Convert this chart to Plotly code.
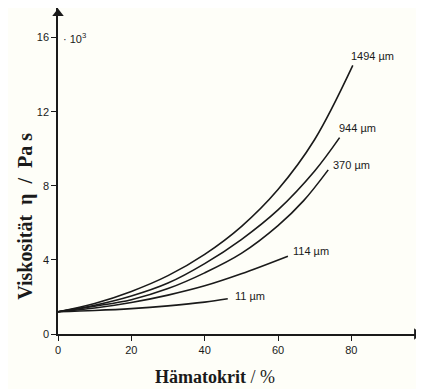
import plotly.graph_objects as go

# Data: hematocrit (%) vs viscosity (10^-3 Pa s)
x_1494 = [0, 10, 20, 30, 40, 50, 60, 70, 80.4]
y_1494 = [1.2, 1.65, 2.3, 3.15, 4.3, 5.8, 7.8, 10.5, 14.5]
x_944 = [0, 10, 20, 30, 40, 50, 60, 70, 76.8]
y_944 = [1.2, 1.55, 2.05, 2.75, 3.8, 5.1, 6.7, 8.8, 10.6]
x_370 = [0, 10, 20, 30, 40, 50, 60, 67, 73.7]
y_370 = [1.2, 1.5, 1.85, 2.45, 3.3, 4.35, 5.85, 7.2, 8.86]
x_114 = [0, 10, 20, 30, 40, 50, 62.7]
y_114 = [1.2, 1.4, 1.7, 2.1, 2.6, 3.25, 4.2]
x_11 = [0, 10, 20, 30, 40, 46.3]
y_11 = [1.2, 1.27, 1.37, 1.52, 1.72, 1.9]

series = [
    ("1494 µm", x_1494, y_1494, 79.4, 15.0),
    ("944 µm", x_944, y_944, 76.0, 11.1),
    ("370 µm", x_370, y_370, 74.4, 9.1),
    ("114 µm", x_114, y_114, 63.6, 4.5),
    ("11 µm", x_11, y_11, 47.6, 2.05),
]

x_ticks = [0, 20, 40, 60, 80]
y_ticks = [0, 4, 8, 12, 16]
x_max = 99
y_max = 17.6

ink = "#1a1a1a"
fig = go.Figure()
for name, xs, ys, lx, ly in series:
    fig.add_trace(go.Scatter(x=xs, y=ys, mode="lines", name=name,
                             line=dict(color=ink, width=1.6, shape="spline", smoothing=1.0),
                             showlegend=False))
    fig.add_annotation(x=lx, y=ly, text=name, showarrow=False, xanchor="left",
                       yanchor="middle", font=dict(family="Liberation Sans", size=11, color=ink))

# axis arrowheads
fig.add_trace(go.Scatter(x=[x_max - 1.2], y=[0], mode="markers", showlegend=False,
                         marker=dict(symbol="triangle-right", size=10, color=ink),
                         cliponaxis=False, hoverinfo="skip"))
fig.add_trace(go.Scatter(x=[0], y=[y_max - 0.3], mode="markers", showlegend=False,
                         marker=dict(symbol="triangle-up", size=10, color=ink),
                         cliponaxis=False, hoverinfo="skip"))
fig.add_annotation(x=0.8, y=16, text="· 10<sup>3</sup>", showarrow=False, xanchor="left",
                   yanchor="middle", font=dict(family="Liberation Sans", size=11, color=ink))

fig.add_annotation(xref="paper", yref="paper", x=-0.125, y=0.36,
                   text="<b>Viskosität  η  /  Pa s</b>",
                   textangle=-90, showarrow=False,
                   font=dict(family="Liberation Serif", size=20, color=ink))
fig.add_annotation(xref="paper", yref="paper", x=0.432, y=-0.17, text="<b>Hämatokrit</b> / %",
                   showarrow=False,
                   font=dict(family="Liberation Serif", size=18, color=ink))

fig.update_xaxes(range=[0, x_max], tickvals=x_ticks, ticks="outside", ticklen=5, tickwidth=1.2,
                 tickcolor=ink, showline=True, linecolor=ink, linewidth=1.5, showgrid=False,
                 zeroline=False, tickfont=dict(family="Liberation Sans", size=11, color=ink))
fig.update_yaxes(range=[0, y_max], tickvals=y_ticks, ticks="outside", ticklen=5, tickwidth=1.2,
                 tickcolor=ink, showline=True, linecolor=ink, linewidth=1.5, showgrid=False,
                 zeroline=False, tickfont=dict(family="Liberation Sans", size=11, color=ink))

fig.update_layout(width=416, height=381, margin=dict(l=50, r=3, t=0, b=55),
                  paper_bgcolor="#fefef8", plot_bgcolor="#fefef8")
fig.write_html("out.html")
